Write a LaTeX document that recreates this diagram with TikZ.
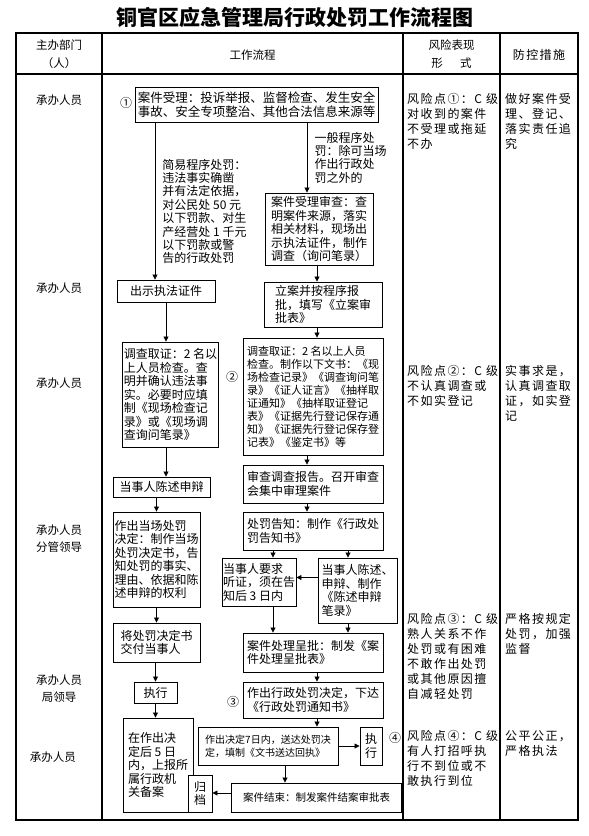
\documentclass[tikz,border=0pt]{standalone}
\usepackage{fontspec}
\setmainfont{Noto Sans CJK SC}
\newfontfamily\cjkw[LetterSpace=12]{Noto Sans CJK SC}
\usepackage{tikz}
\usetikzlibrary{arrows.meta,positioning}
\tikzset{
  bx/.style={draw,line width=0.9pt,align=left,inner sep=1pt,font=\fontsize{12}{13.5}\selectfont},
  ar/.style={-{Triangle[length=5pt,width=5pt]},line width=0.8pt},
  note/.style={align=left,inner sep=0pt,font=\fontsize{12}{13.4}\selectfont},
  dept/.style={align=center,inner sep=0pt,font=\fontsize{11.5}{17}\selectfont},
  col/.style={anchor=north west,align=left,inner sep=0pt,font=\cjkw\fontsize{12}{15}\selectfont},
  num/.style={inner sep=0pt,font=\fontsize{12}{12}\selectfont}
}

\begin{document}
\begin{tikzpicture}[x=1pt,y=-1pt]
\useasboundingbox (0,0) rectangle (589,836);
\node[font=\bfseries\fontsize{21}{24}\selectfont] (title) at (295,17) {铜官区应急管理局行政处罚工作流程图};
% table
\draw[line width=1.1pt] (16,33) rectangle (578,820);
\draw[line width=1.1pt] (16,74) -- (578,74);
\foreach \cx in {102,403,500}{\draw[line width=1.1pt] (\cx,33) -- (\cx,820);}
\node[dept,font=\fontsize{11.5}{18}\selectfont] (h1) at (59,54) {主办部门\\（人）};
\node[dept] (h2) at (252.5,55) {工作流程};
\node[dept,font=\fontsize{11.5}{18}\selectfont] (h3) at (451.5,54) {风险表现\\形\hspace{1.5em}式};
\node[dept,font=\cjkw\fontsize{12}{15}\selectfont] (h4) at (539,55) {防控措施};
% departments
\node[dept] (d1) at (59,100) {承办人员};
\node[dept] (d2) at (59,288) {承办人员};
\node[dept] (d3) at (59,383) {承办人员};
\node[dept] (d4) at (59,538.5) {承办人员\\分管领导};
\node[dept] (d5) at (59,688.5) {承办人员\\局领导};
\node[dept] (d6) at (53,757) {承办人员};
% flow boxes
\node[bx,font=\fontsize{12.5}{14}\selectfont,minimum width=243pt,minimum height=35pt] (accept) at (256.5,104.5) {案件受理：投诉举报、监督检查、发生安全\\事故、安全专项整治、其他合法信息来源等};
\node[bx,minimum width=108pt,minimum height=72pt] (check) at (319,229) {案件受理审查：查\\明案件来源，落实\\相关材料，现场出\\示执法证件，制作\\调查（询问笔录）};
\node[bx,minimum width=98pt,minimum height=22pt] (show) at (166,291) {出示执法证件};
\node[bx,minimum width=118pt,minimum height=45pt] (filing) at (323,304.5) {立案并按程序报\\批，填写《立案审\\批表》};
\node[bx,minimum width=95pt,minimum height=105pt] (invL) at (170.5,394.5) {调查取证：2 名以\\上人员检查。查\\明并确认违法事\\实。必要时应填\\制《现场检查记\\录》或《现场调\\查询问笔录》};
\node[bx,font=\fontsize{11}{13}\selectfont,minimum width=140pt,minimum height=117pt] (invR) at (313,396.5) {调查取证：2 名以上人员\\检查。制作以下文书：《现\\场检查记录》《调查询问笔\\录》《证人证言》《抽样取\\证通知》《抽样取证登记\\表》《证据先行登记保存通\\知》《证据先行登记保存登\\记表》《鉴定书》等};
\node[bx,minimum width=97pt,minimum height=20pt] (plea) at (161.5,487) {当事人陈述申辩};
\node[bx,minimum width=140pt,minimum height=38pt] (review) at (313,484) {审查调查报告。召开审查\\会集中审理案件};
\node[bx,minimum width=87pt,minimum height=95pt] (onsite) at (156.5,559.5) {作出当场处罚\\决定：制作当场\\处罚决定书，告\\知处罚的事实、\\理由、依据和陈\\述申辩的权利};
\node[bx,minimum width=140pt,minimum height=38pt] (notify) at (313,531) {处罚告知：制作《行政处\\罚告知书》};
\node[bx,minimum width=74pt,minimum height=48pt] (hearing) at (259,582) {当事人要求\\听证，须在告\\知后 3 日内};
\node[bx,minimum width=79pt,minimum height=65pt] (state) at (357.5,590.5) {当事人陈述、\\申辩、制作\\《陈述申辩\\笔录》};
\node[bx,minimum width=87pt,minimum height=39pt] (deliver) at (156.5,642.5) {将处罚决定书\\交付当事人};
\node[bx,minimum width=140pt,minimum height=39pt] (approve) at (313,652.5) {案件处理呈批：制发《案\\件处理呈批表》};
\node[bx,minimum width=43pt,minimum height=21pt] (execL) at (155.5,692.5) {执行};
\node[bx,minimum width=140pt,minimum height=36pt] (decide) at (313,700) {作出行政处罚决定，下达\\《行政处罚通知书》};
\node[bx,minimum width=70pt,minimum height=94pt] (record) at (158,765) {在作出决\\定后 5 日\\内，上报所\\属行政机\\关备案};
\node[bx,font=\fontsize{10}{13}\selectfont,minimum width=140pt,minimum height=38pt] (serve) at (268,746) {作出决定7日内，送达处罚决\\定，填制《文书送达回执》};
\node[bx,minimum width=22pt,minimum height=38pt] (execR) at (371,746) {执\\行};
\node[bx,fill=white,minimum width=24pt,minimum height=37pt] (archive) at (200,793.5) {归\\档};
\node[bx,font=\fontsize{10.5}{13}\selectfont,minimum width=170pt,minimum height=29pt] (close) at (316.5,797.5) {案件结束：制发案件结案审批表};
% branch notes and numbers
\node[note] (simple) at (204.5,211.5) {简易程序处罚：\\违法事实确凿\\并有法定依据，\\对公民处 50 元\\以下罚款、对生\\产经营处 1 千元\\以下罚款或警\\告的行政处罚};
\node[note] (general) at (350.5,157.5) {一般程序处\\罚：除可当场\\作出行政处\\罚之外的};
\node[num] (n1) at (126,103) {①};
\node[num] (n2) at (232,377) {②};
\node[num] (n3) at (233,702) {③};
\node[num] (n4) at (395,738) {④};
% connectors
\draw[ar] ([xshift=-11pt]show.north |- accept.south) -- ([xshift=-11pt]show.north);
\draw[ar] ([xshift=-12pt]check.north |- accept.south) -- ([xshift=-12pt]check.north);
\draw[ar] ([xshift=-2pt]check.south) -- ([xshift=-2pt]check.south |- filing.north);
\draw[ar] (show.south) -- (show.south |- invL.north);
\draw[ar] ([xshift=-6pt]filing.south) -- ([xshift=-6pt]filing.south |- invR.north);
\draw[ar] (show.south |- invL.south) -- (show.south |- plea.north);
\draw[ar] ([xshift=-6pt]invR.south) -- ([xshift=-6pt]review.north);
\draw[ar] (onsite.north |- plea.south) -- (onsite.north);
\draw[ar] ([xshift=-6pt]review.south) -- ([xshift=-6pt]notify.north);
\draw[ar] (onsite.south) -- (deliver.north);
\draw[ar] ([xshift=14pt]hearing.north |- notify.south) -- ([xshift=14pt]hearing.north);
\draw[ar] ([xshift=-9.5pt]state.north |- notify.south) -- ([xshift=-9.5pt]state.north);
\draw[ar] ([yshift=13pt]state.west) -- ([yshift=13pt]state.west -| hearing.east);
\draw[ar] ([xshift=14pt]hearing.south) -- ([xshift=14pt]hearing.south |- approve.north);
\draw[ar] ([xshift=-9.5pt]state.south) -- ([xshift=-9.5pt]state.south |- approve.north);
\draw[ar] (execL.north |- deliver.south) -- (execL.north);
\draw[ar] ([xshift=4pt]approve.south) -- ([xshift=4pt]decide.north);
\draw[ar] (execL.south) -- (execL.south |- record.north);
\draw[ar] ([xshift=4pt]decide.south) -- ([xshift=4pt]decide.south |- serve.north);
\draw[ar] (serve.east) -- (execR.west);
\draw[ar] ([xshift=17pt]serve.south) -- ([xshift=17pt]serve.south |- close.north);
\draw[ar] ([yshift=4.5pt]close.west) -- ([yshift=4.5pt]close.west -| archive.east);
% risk and measure columns
\node[col] (r1) at (407,93) {风险点①：C 级\\对收到的案件\\不受理或拖延\\不办};
\node[col] (m1) at (505,93) {做好案件受\\理、登记、\\落实责任追\\究};
\node[col] (r2) at (407,365) {风险点②：C 级\\不认真调查或\\不如实登记};
\node[col] (m2) at (505,365) {实事求是，\\认真调查取\\证，如实登\\记};
\node[col] (r3) at (407,613) {风险点③：C 级\\熟人关系不作\\处罚或有困难\\不敢作出处罚\\或其他原因擅\\自减轻处罚};
\node[col] (m3) at (505,613) {严格按规定\\处罚，加强\\监督};
\node[col] (r4) at (407,730) {风险点④：C 级\\有人打招呼执\\行不到位或不\\敢执行到位};
\node[col] (m4) at (505,730) {公平公正，\\严格执法};
\end{tikzpicture}
\end{document}
